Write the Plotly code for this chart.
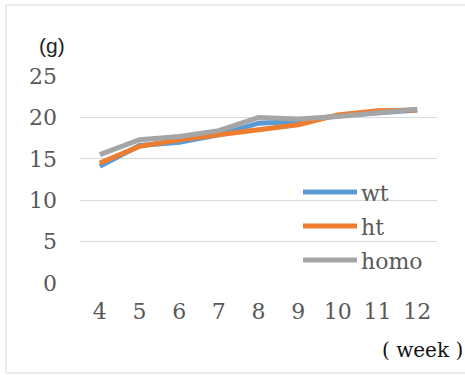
import plotly.graph_objects as go

# Body weight by age (week), three genotypes
weeks = ["4", "5", "6", "7", "8", "9", "10", "11", "12"]
wt = [14.1, 16.6, 17.0, 17.9, 19.3, 19.5, 20.2, 20.6, 20.9]
ht = [14.5, 16.5, 17.3, 17.9, 18.6, 19.1, 20.3, 20.8, 20.9]
homo = [15.5, 17.3, 17.7, 18.4, 20.0, 19.8, 20.1, 20.5, 21.0]

series_names = ["wt", "ht", "homo"]
series_values = [wt, ht, homo]
series_colors = ["#5B9BD5", "#ED7D31", "#A5A5A5"]

W, H = 465, 375
L, R, T, B = 80, 28, 76, 92
pw, ph = W - L - R, H - T - B

def px_x(x):
    return (x - L) / pw

def px_y(y):
    return (H - B - y) / ph

serif = "DejaVu Serif"
gray = "#595959"

fig = go.Figure()
for name, vals, col in zip(series_names, series_values, series_colors):
    fig.add_trace(go.Scatter(
        x=weeks, y=vals, name=name, mode="lines",
        line=dict(color=col, width=5),
        showlegend=False,
    ))

shapes = [
    # chart area border
    dict(type="rect", xref="paper", yref="paper",
         x0=px_x(6), x1=px_x(470), y0=px_y(373), y1=px_y(5),
         line=dict(color="#D9D9D9", width=1), fillcolor="rgba(0,0,0,0)",
         layer="below"),
]
annotations = []

# legend drawn inside the plot area
legend_rows = [192, 226, 260]
for name, col, yp in zip(series_names, series_colors, legend_rows):
    shapes.append(dict(type="line", xref="paper", yref="paper",
                       x0=px_x(303), x1=px_x(357), y0=px_y(yp), y1=px_y(yp),
                       line=dict(color=col, width=5)))
    annotations.append(dict(text=name, xref="paper", yref="paper",
                            x=px_x(359), y=px_y(yp + 1), xanchor="left",
                            yanchor="middle", showarrow=False,
                            font=dict(family=serif, size=22, color=gray)))

# axis unit labels
annotations.append(dict(text="(g)", xref="paper", yref="paper",
                        x=px_x(52), y=px_y(45), xanchor="center", yanchor="middle",
                        showarrow=False,
                        font=dict(family="Liberation Sans", size=21, color="#222222")))
annotations.append(dict(text="( week )", xref="paper", yref="paper",
                        x=px_x(422), y=px_y(350), xanchor="center", yanchor="middle",
                        showarrow=False,
                        font=dict(family=serif, size=20, color="#111111")))

fig.update_layout(
    width=W, height=H,
    margin=dict(l=L, r=R, t=T, b=B),
    paper_bgcolor="white", plot_bgcolor="white",
    shapes=shapes, annotations=annotations,
    xaxis=dict(
        type="category", range=[-0.5, 8.5],
        showgrid=False, zeroline=False, showline=False, ticks="",
        ticklabelstandoff=13,
        tickfont=dict(family=serif, size=22, color=gray),
    ),
    yaxis=dict(
        range=[0, 25], tickvals=[0, 5, 10, 15, 20, 25],
        showgrid=True, gridcolor="#D9D9D9", gridwidth=1.3,
        zeroline=False, showline=False, ticks="",
        ticklabelstandoff=22,
        tickfont=dict(family=serif, size=22, color=gray),
    ),
)

fig.write_html("out.html")
